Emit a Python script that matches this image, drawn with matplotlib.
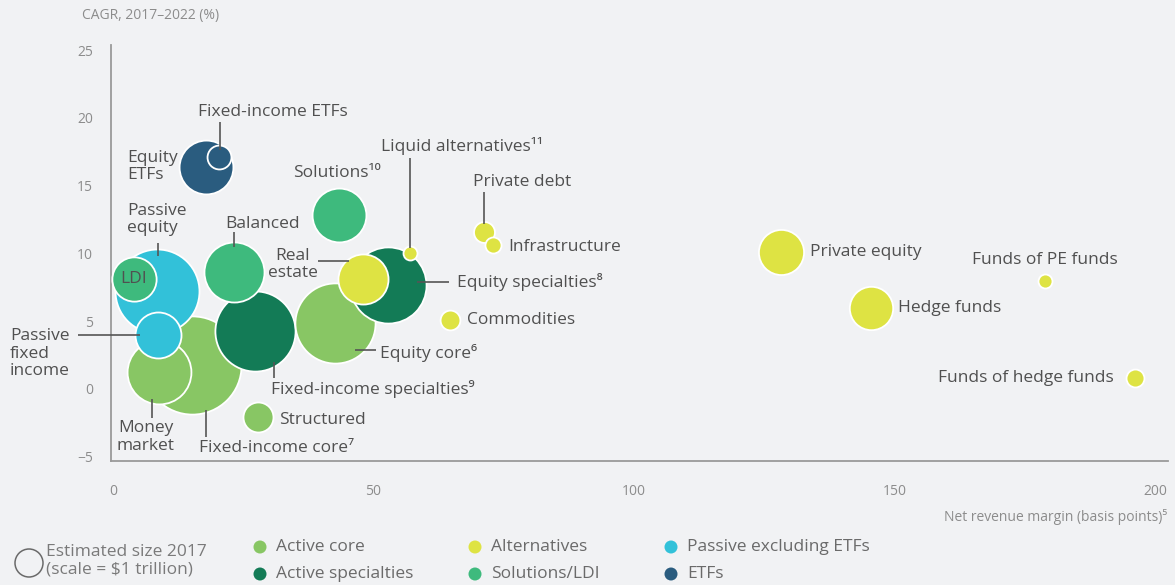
import matplotlib
matplotlib.use("Agg")
import matplotlib.pyplot as plt
from matplotlib.patches import Ellipse

# ---------------- data ----------------
# draw order (bottom to top)
names = ["Fixed-income core", "Money market", "Passive equity", "LDI", "Passive fixed income",
         "Fixed-income specialties", "Balanced", "Equity core", "Equity specialties",
         "Real estate", "Liquid alternatives", "Solutions", "Structured",
         "Equity ETFs", "Fixed-income ETFs", "Private debt", "Infrastructure", "Commodities",
         "Private equity", "Hedge funds", "Funds of PE funds", "Funds of hedge funds"]
margin_bp = [15.2, 8.8, 8.5, 4.0, 8.7,
             27.3, 23.3, 42.7, 52.7,
             47.9, 57.1, 43.3, 27.9,
             17.9, 20.4, 71.3, 72.9, 64.6,
             128.3, 145.4, 178.8, 196.2]
cagr_pct = [1.8, 1.25, 7.2, 8.1, 4.0,
            4.3, 8.6, 4.9, 7.7,
            8.1, 10.0, 12.8, -2.1,
            16.4, 17.1, 11.6, 10.6, 5.1,
            10.1, 6.0, 8.0, 0.8]
size_2017_tn = [12.3, 5.2, 9.0, 2.5, 2.7,
                8.2, 4.6, 8.2, 7.4,
                3.2, 0.25, 3.7, 1.15,
                3.7, 0.73, 0.56, 0.33, 0.5,
                2.6, 2.4, 0.25, 0.41]
groups = ["Active core", "Active core", "Passive excluding ETFs", "Solutions/LDI", "Passive excluding ETFs",
          "Active specialties", "Solutions/LDI", "Active core", "Active specialties",
          "Alternatives", "Alternatives", "Solutions/LDI", "Active core",
          "ETFs", "ETFs", "Alternatives", "Alternatives", "Alternatives",
          "Alternatives", "Alternatives", "Alternatives", "Alternatives"]

legend_groups = ["Active core", "Active specialties", "Alternatives", "Solutions/LDI",
                 "Passive excluding ETFs", "ETFs"]
group_colors = {"Active core": "#88c664", "Active specialties": "#137b56",
                "Alternatives": "#dee343", "Solutions/LDI": "#3eba7d",
                "Passive excluding ETFs": "#32c1d9", "ETFs": "#2a5c7f"}

x_ticks = [0, 50, 100, 150, 200]
y_ticks = [-5, 0, 5, 10, 15, 20, 25]

# ---------------- style ----------------
BG = "#f1f2f4"
TXT = "#505050"
TICK = "#8c8c8c"
FONT = ["Open Sans", "DejaVu Sans"]
plt.rcParams["font.family"] = FONT

W, H = 1175, 585
fig = plt.figure(figsize=(W / 100, H / 100), dpi=100, facecolor=BG)

# axes placement (pixel mapping)
x0, x1 = -0.4, 202.5
y0, y1 = -5.3, 25.4
px_l = 113 + 5.21 * x0
px_r = 113 + 5.21 * x1
py_b = 389 - 13.56 * y0
py_t = 389 - 13.56 * y1
ax = fig.add_axes([px_l / W, (H - py_b) / H, (px_r - px_l) / W, (py_b - py_t) / H])
ax.set_facecolor(BG)
ax.set_xlim(x0, x1)
ax.set_ylim(y0, y1)

# bubble area scale: $1 trillion -> radius 14 px
R1 = 14 * 0.72  # points
S1 = (2 * R1) ** 2

for n, xv, yv, sz, g in zip(names, margin_bp, cagr_pct, size_2017_tn, groups):
    ax.scatter([xv], [yv], s=S1 * sz, color=group_colors[g], edgecolor="white",
               linewidth=1.3, zorder=3, clip_on=False)

# spines / ticks
for s in ["top", "right"]:
    ax.spines[s].set_visible(False)
for s in ["left", "bottom"]:
    ax.spines[s].set_color("#9a9a9a")
    ax.spines[s].set_linewidth(1.3)
ax.set_xticks(x_ticks)
ax.set_yticks(y_ticks)
ax.set_yticklabels(["\u22125" if v < 0 else str(v) for v in y_ticks])
ax.tick_params(axis="both", length=0, colors=TICK, labelsize=10)
ax.tick_params(axis="x", pad=17)
ax.tick_params(axis="y", pad=13)

# ---------------- labels ----------------
FS = 12.5
def label(txt, x, y, ha="left", va="center", ma=None):
    ax.text(x, y, txt, ha=ha, va=va, fontsize=FS, color=TXT, zorder=6,
            multialignment=ma or ha, linespacing=1.12, clip_on=False)

def leader(xa, ya, xb, yb):
    ax.plot([xa, xb], [ya, yb], color="#555555", lw=1.2, zorder=5,
            solid_capstyle="butt", clip_on=False)

label("Fixed-income ETFs", 30.7, 20.4, ha="center")
leader(20.5, 19.7, 20.5, 17.6)
label("Equity\nETFs", 2.7, 16.4)
label("Solutions\u00b9\u2070", 34.5, 15.9)
label("Liquid alternatives\u00b9\u00b9", 51.4, 17.9)
leader(57.0, 17.0, 57.0, 10.4)
label("Private debt", 69.1, 15.3)
leader(71.2, 14.5, 71.2, 12.2)
label("Infrastructure", 75.8, 10.5)
label("Passive\nequity", 2.7, 12.5)
leader(8.6, 10.8, 8.6, 9.8)
label("Balanced", 21.5, 12.2)
leader(23.2, 11.6, 23.2, 10.5)
label("Real\nestate", 34.5, 9.2, ha="center")
leader(39.3, 9.44, 45.3, 9.44)
label("LDI", 4.0, 8.1, ha="center")
label("Equity specialties\u2078", 66.0, 7.9)
leader(58.3, 7.9, 64.5, 7.9)
label("Commodities", 67.9, 5.1)
label("Equity core\u2076", 51.2, 2.65)
leader(46.4, 2.9, 50.5, 2.9)
label("Passive\nfixed\nincome", -19.8, 2.6)
leader(-6.7, 4.0, 5.2, 4.0)
label("Fixed-income specialties\u2079", 30.3, 0.0)
leader(30.9, 2.0, 30.9, 0.8)
label("Structured", 31.9, -2.3)
label("Money\nmarket", 6.3, -3.55, ha="center")
leader(7.5, -0.75, 7.5, -2.15)
label("Fixed-income core\u2077", 16.5, -4.35)
leader(17.8, -1.55, 17.8, -3.55)
label("Private equity", 133.8, 10.1)
label("Funds of PE funds", 164.9, 9.5)
label("Hedge funds", 150.7, 6.0)
label("Funds of hedge funds", 192.1, 0.8, ha="right")

# axis titles
fig.text(82 / W, 1 - 15 / H, "CAGR, 2017\u20132022 (%)", ha="left", va="center",
         fontsize=10, color=TICK)
fig.text(1167 / W, 1 - 517 / H, "Net revenue margin (basis points)\u2075", ha="right",
         va="center", fontsize=10, color=TICK)

# ---------------- legend ----------------
fig.patches.append(Ellipse((29 / W, 1 - 563 / H), 28 / W, 28 / H, transform=fig.transFigure,
                           fill=False, edgecolor="#6a6a6a", lw=1.1))
fig.text(46 / W, 1 - 561 / H, "Estimated size 2017\n(scale = $1 trillion)", ha="left",
         va="center", fontsize=FS, color="#7a7a7a", linespacing=1.12)

leg_pos = [(260, 547), (260, 574), (475, 547), (475, 574), (671, 547), (671, 574)]
for g, (lx, ly) in zip(legend_groups, leg_pos):
    fig.patches.append(Ellipse((lx / W, 1 - ly / H), 13 / W, 13 / H, transform=fig.transFigure,
                               facecolor=group_colors[g], edgecolor="none"))
    fig.text((lx + 16) / W, 1 - ly / H, g, ha="left", va="center", fontsize=FS,
             color="#6a6a6a")

fig.savefig("out.png", dpi=100, facecolor=BG)
